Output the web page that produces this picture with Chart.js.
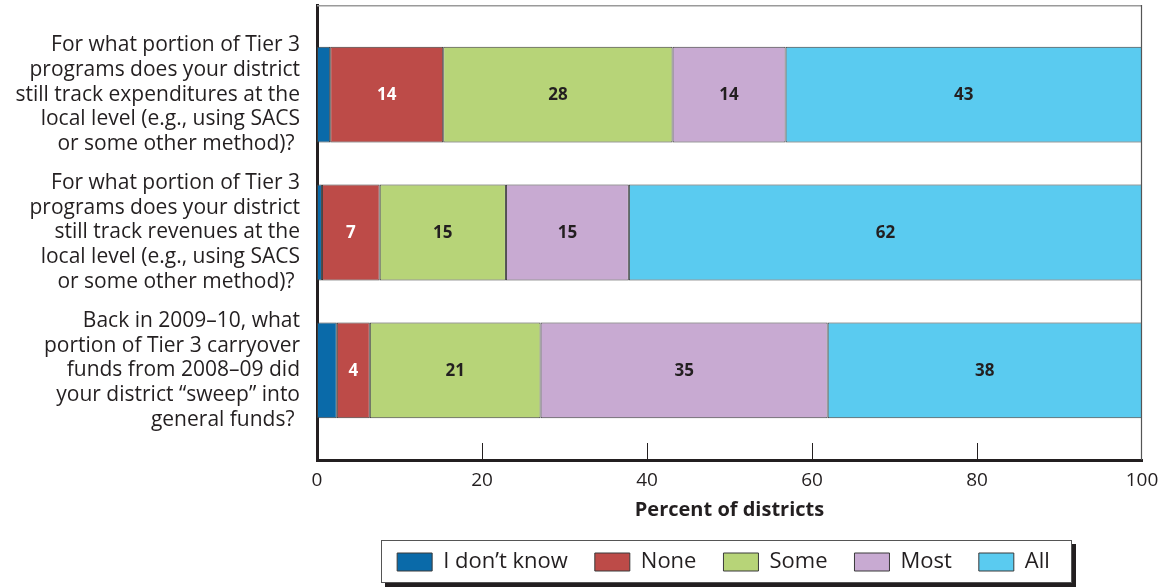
<!DOCTYPE html>
<html><head><meta charset="utf-8">
<style>html,body{margin:0;padding:0;background:#fff;overflow:hidden}#wrap{width:1162px;height:588px}</style>
<script src="https://cdn.jsdelivr.net/npm/chart.js@4"></script>
</head><body><div id="wrap"><canvas id="c" width="1162" height="588"></canvas></div>
<script>
// ---- data ----
const questions = [
  ["For what portion of Tier 3", "programs does your district", "still track expenditures at the", "local level (e.g., using SACS", "or some other method)? "],
  ["For what portion of Tier 3", "programs does your district", "still track revenues at the", "local level (e.g., using SACS", "or some other method)? "],
  ["Back in 2009–10, what", "portion of Tier 3 carryover", "funds from 2008–09 did", "your district “sweep” into", "general funds? "]
];
const seriesNames = ["I don’t know", "None", "Some", "Most", "All"];
const dontKnow = [1.6, 0.6, 2.4];
const none     = [13.7, 7.0, 4.0];
const some     = [27.8, 15.3, 20.7];
const most     = [13.7, 14.9, 34.8];
const all      = [43.2, 62.2, 38.1];
const xTicks   = [0, 20, 40, 60, 80, 100];
const xTitle   = "Percent of districts";

// ---- styles ----
const FAMILY = '"Open Sans", "Noto Sans", sans-serif';
const INK = '#231f20';
const colors = ['#0a6aa9', '#bd4b48', '#b7d478', '#c8aad2', '#5acbf0'];
const labelColors = [null, '#ffffff', INK, INK, INK];

const seriesValues = [dontKnow, none, some, most, all];

const valueLabels = {
  id: 'valueLabels',
  afterDatasetsDraw(chart) {
    const ctx = chart.ctx;
    ctx.save();
    ctx.font = 'bold 17px ' + FAMILY;
    ctx.textAlign = 'center';
    ctx.textBaseline = 'middle';
    chart.data.datasets.forEach((ds, k) => {
      if (!labelColors[k]) return;
      const meta = chart.getDatasetMeta(k);
      meta.data.forEach((bar, i) => {
        ctx.fillStyle = labelColors[k];
        ctx.fillText(String(Math.round(seriesValues[k][i])), (bar.x + bar.base) / 2, bar.y + 1);
      });
    });
    ctx.restore();
  }
};

const frame = {
  id: 'frame',
  afterLayout(chart) {
    if (chart.legend) { chart.legend.left -= 6; chart.legend.right -= 6; }
  },
  beforeDraw(chart) {
    const lg = chart.legend;
    if (!lg || !lg.legendHitBoxes || !lg.legendHitBoxes.length) return;
    const hb = lg.legendHitBoxes;
    const first = hb[0], last = hb[hb.length - 1];
    const cy = first.top + first.height / 2;
    const x0 = Math.round(first.left - 16), x1 = Math.round(last.left + last.width + 22);
    const y0 = Math.round(cy - 22), y1 = Math.round(cy + 21);
    const ctx = chart.ctx;
    ctx.save();
    ctx.fillStyle = INK;
    ctx.fillRect(x0 + 4, y0 + 4, x1 - x0, y1 - y0);
    ctx.fillStyle = '#fff';
    ctx.fillRect(x0, y0, x1 - x0, y1 - y0);
    ctx.strokeStyle = '#555';
    ctx.lineWidth = 1;
    ctx.strokeRect(x0 + 0.5, y0 + 0.5, x1 - x0 - 1, y1 - y0 - 1);
    ctx.restore();
  },
  afterDraw(chart) {
    const {left, right, top, bottom} = chart.chartArea;
    const ctx = chart.ctx;
    ctx.save();
    ctx.strokeStyle = '#9a9a9a';
    ctx.lineWidth = 1.5;
    ctx.beginPath(); ctx.moveTo(left, top + 0.75); ctx.lineTo(right, top + 0.75); ctx.stroke();
    ctx.strokeStyle = '#555';
    ctx.lineWidth = 1.2;
    ctx.beginPath(); ctx.moveTo(right - 0.5, top); ctx.lineTo(right - 0.5, bottom); ctx.stroke();
    const xs = chart.scales.x;
    ctx.strokeStyle = INK;
    ctx.lineWidth = 1;
    xTicks.forEach(v => {
      if (v === xs.min || v === xs.max) return;
      const px = Math.round(xs.getPixelForValue(v)) + 0.5;
      ctx.beginPath(); ctx.moveTo(px, bottom - 1); ctx.lineTo(px, bottom - 17); ctx.stroke();
    });
    ctx.restore();
  }
};

function make() {
  Chart.defaults.font.family = FAMILY;
  Chart.defaults.color = INK;
  new Chart(document.getElementById('c'), {
    type: 'bar',
    data: {
      datasets: seriesValues.map((arr, k) => ({
        label: seriesNames[k],
        data: arr.map((v, i) => ({x: v, y: i})),
        backgroundColor: colors[k],
        borderColor: '#3a3a3a',
        borderWidth: 1,
        borderSkipped: false,
        categoryPercentage: 1,
        barPercentage: 0.696
      }))
    },
    options: {
      indexAxis: 'y',
      responsive: false,
      animation: false,
      devicePixelRatio: 1,
      layout: {padding: {top: 5, right: 20, bottom: 5, left: 0}},
      plugins: {
        tooltip: {enabled: false},
        legend: {
          position: 'bottom',
          fullSize: false,
          labels: {boxWidth: 35, boxHeight: 18, padding: 27, color: INK, font: {size: 22, family: FAMILY}}
        }
      },
      scales: {
        x: {
          type: 'linear', stacked: true, min: 0, max: 100, offset: false,
          afterBuildTicks: s => { s.ticks = xTicks.map(v => ({value: v})); },
          grid: {display: false, drawTicks: false, offset: false},
          border: {display: true, width: 3, color: INK},
          ticks: {color: INK, font: {size: 19}, padding: 9, maxRotation: 0, autoSkip: false},
          title: {display: true, text: xTitle, color: INK, font: {size: 20, weight: 'bold'}, padding: {top: 0, bottom: 2}},
          afterFit: s => { s.height = 64; s.paddingLeft = 0; s.paddingRight = 0; }
        },
        y: {
          type: 'linear', stacked: true, reverse: true, min: -0.65, max: 2.65, offset: false,
          afterBuildTicks: s => { s.ticks = questions.map((q, i) => ({value: i})); },
          grid: {display: false, drawTicks: false, offset: false},
          border: {display: true, width: 3, color: INK},
          ticks: {callback: v => questions[v], color: INK, font: {size: 21, lineHeight: 1.17}, padding: 17, autoSkip: false, crossAlign: 'near'},
          afterFit: s => { s.width = 317; s.paddingTop = 0; s.paddingBottom = 0; }
        }
      }
    },
    plugins: [valueLabels, frame]
  });
}
(document.fonts ? Promise.all([document.fonts.load('21px "Open Sans"'), document.fonts.load('bold 20px "Open Sans"')]).catch(() => {}) : Promise.resolve()).then(make);
</script>
</body></html>
